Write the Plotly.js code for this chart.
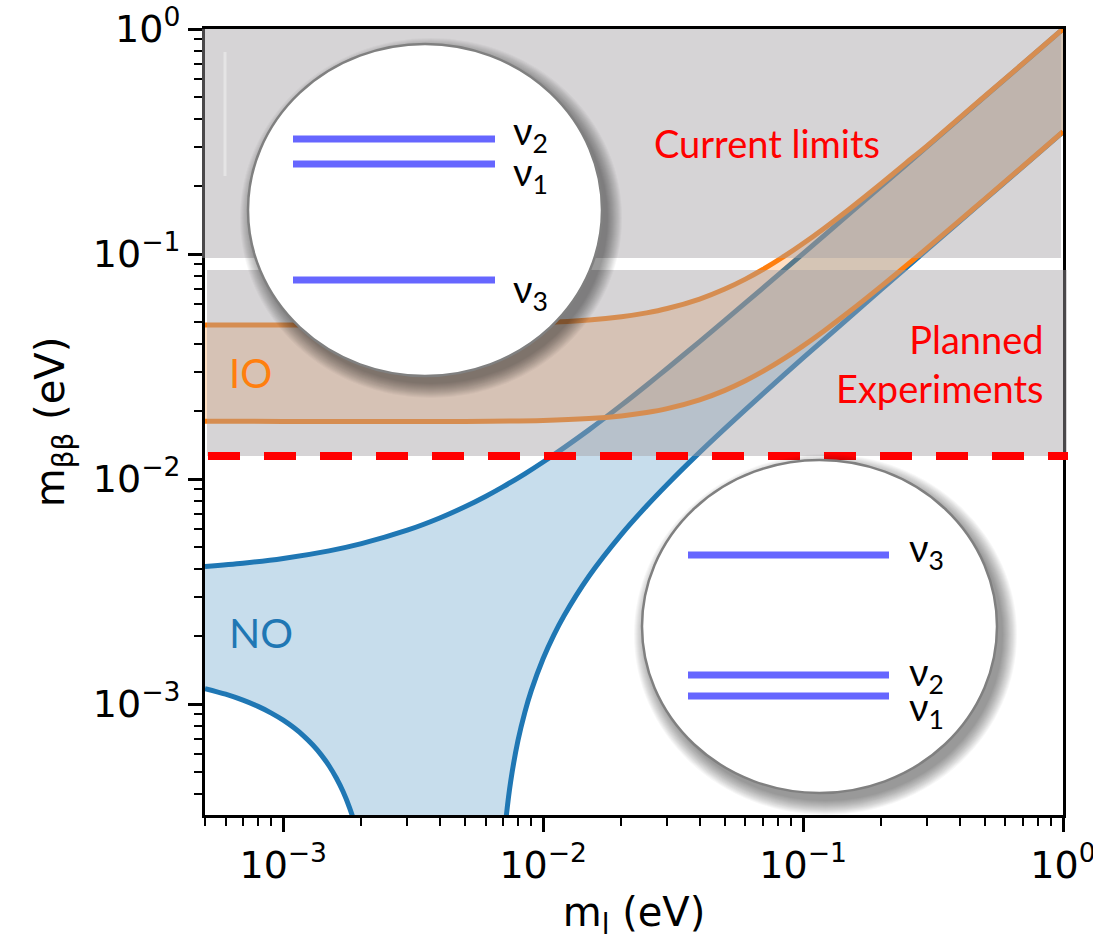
<!DOCTYPE html>
<html><head><meta charset="utf-8">
<script src="https://cdn.plot.ly/plotly-3.0.1.min.js"></script>
<style>html,body{margin:0;padding:0;background:#fff}</style>
</head><body>
<div id="chart" style="width:1093px;height:941px"></div>
<script>
// ---- data (eV) ----
const mlNOUpper = [5e-4,7e-4,1e-3,1.5e-3,2e-3,3e-3,4e-3,5e-3,6e-3,7e-3,8.5e-3,1e-2,1.5e-2,2e-2,2.5e-2,3e-2,4e-2,5e-2,7e-2,0.1,0.15,0.2,0.3,0.5,0.7,1.0];
const mbbNOUpper = [0.004087,0.004226,0.004437,0.004796,0.005164,0.005924,0.006713,0.007529,0.008368,0.009228,0.01055,0.01190,0.01654,0.02130,0.02613,0.03101,0.04082,0.05069,0.07052,0.1004,0.1503,0.2002,0.3001,0.5001,0.7001,1.000];
const mlNOLowerLeft = [5e-4,6e-4,7e-4,8e-4,9e-4,1e-3,1.1e-3,1.2e-3,1.3e-3,1.4e-3,1.5e-3,1.6e-3,1.7e-3,1.8e-3,1.9e-3,2.0e-3];
const mbbNOLowerLeft = [0.001172,0.001107,0.001041,0.0009765,0.000912,0.0008479,0.000784,0.0007206,0.0006575,0.0005947,0.000532,0.000469,0.0004074,0.0003459,0.0002848,0.000224];
const mlNOLowerRight = [7e-3,7.2e-3,7.5e-3,8e-3,8.5e-3,9e-3,1e-2,1.1e-2,1.2e-2,1.5e-2,2e-2,2.5e-2,3e-2,4e-2,5e-2,7e-2,0.1,0.15,0.2,0.3,0.5,0.7,1.0];
const mbbNOLowerRight = [0.0002152,0.0003112,0.0004537,0.0006883,0.000919,0.001147,0.001593,0.002029,0.002457,0.003698,0.005678,0.007591,0.009465,0.01314,0.01676,0.02391,0.03452,0.05209,0.06961,0.1046,0.1744,0.2442,0.3490];
const mlIO = [5e-4,1e-3,2e-3,5e-3,1e-2,1.5e-2,2e-2,2.5e-2,3e-2,4e-2,5e-2,6e-2,7e-2,8.5e-2,0.1,0.12,0.15,0.2,0.25,0.3,0.4,0.5,0.7,1.0];
const mbbIOUpper = [0.04838,0.04840,0.04845,0.04873,0.04957,0.05088,0.05262,0.05475,0.05724,0.06310,0.06989,0.07737,0.08537,0.09805,0.1113,0.1296,0.1578,0.2059,0.2547,0.3020,0.4027,0.5024,0.7017,1.001];
const mbbIOLower = [0.01805,0.01804,0.01803,0.01804,0.01821,0.01856,0.01908,0.01975,0.02055,0.02249,0.02478,0.02734,0.03009,0.03446,0.03906,0.04540,0.05520,0.07196,0.08899,0.1062,0.1407,0.1754,0.2449,0.3494];
const currentLimit = 0.096;      // lower edge of "Current limits" band
const plannedTop = 0.0849;       // upper edge of "Planned Experiments" band
const plannedReach = 0.01265;    // planned sensitivity (red dashed line)
const xTickVals = [1e-3,1e-2,1e-1,1];
const xTickText = ['10<sup>−3</sup>','10<sup>−2</sup>','10<sup>−1</sup>','10<sup>0</sup>'];
const yTickVals = [1e-3,1e-2,1e-1,1];
const yTickText = ['10<sup>−3</sup>','10<sup>−2</sup>','10<sup>−1</sup>','10<sup>0</sup>'];

// ---- layout helpers (pixel -> paper) ----
const L=205,R=1063,T=29,B=815;
const px=x=>(x-L)/(R-L), py=y=>(B-y)/(B-T);
const minorVals=[];
for(let k=-4;k<=0;k++){for(let d=2;d<=9;d++){minorVals.push(d*Math.pow(10,k));}}

const BLUE='#1f77b4', ORANGE='#ff7f0e';
const floorVal=1e-5;
const noFillX = mlNOUpper.concat(mlNOLowerRight.slice().reverse(), [mlNOLowerRight[0], mlNOLowerLeft[mlNOLowerLeft.length-1]], mlNOLowerLeft.slice().reverse());
const noFillY = mbbNOUpper.concat(mbbNOLowerRight.slice().reverse(), [floorVal, floorVal], mbbNOLowerLeft.slice().reverse());
const ioFillX = mlIO.concat(mlIO.slice().reverse());
const ioFillY = mbbIOUpper.concat(mbbIOLower.slice().reverse());

const lineStyle = c => ({color:c, width:5, shape:'spline', smoothing:0.8});
const traces = [
  {x:noFillX, y:noFillY, mode:'lines', fill:'toself', fillcolor:'rgba(31,119,180,0.25)', line:{width:0}, hoverinfo:'skip', showlegend:false},
  {x:mlNOUpper, y:mbbNOUpper, mode:'lines', line:lineStyle(BLUE), showlegend:false},
  {x:mlNOLowerLeft, y:mbbNOLowerLeft, mode:'lines', line:lineStyle(BLUE), showlegend:false},
  {x:mlNOLowerRight, y:mbbNOLowerRight, mode:'lines', line:lineStyle(BLUE), showlegend:false},
  {x:ioFillX, y:ioFillY, mode:'lines', fill:'toself', fillcolor:'rgba(255,127,14,0.25)', line:{width:0}, hoverinfo:'skip', showlegend:false},
  {x:mlIO, y:mbbIOUpper, mode:'lines', line:lineStyle(ORANGE), showlegend:false},
  {x:mlIO, y:mbbIOLower, mode:'lines', line:lineStyle(ORANGE), showlegend:false}
];

const GREY='rgba(165,160,165,0.45)';
const shapes = [
  {type:'rect', layer:'above', xref:'paper', yref:'y', x0:px(202), x1:px(1061), y0:currentLimit, y1:1.02, fillcolor:GREY, line:{width:0}},
  {type:'rect', layer:'above', xref:'paper', yref:'y', x0:px(207), x1:px(1067), y0:plannedReach, y1:plannedTop, fillcolor:GREY, line:{width:0}},
  {type:'line', layer:'above', xref:'paper', yref:'y', x0:px(208), x1:px(1068), y0:plannedReach, y1:plannedReach, line:{color:'#ff0000', width:8, dash:'32px,24px'}},
  {type:'line', layer:'above', xref:'paper', yref:'paper', x0:px(225), x1:px(225), y0:py(52), y1:py(176), line:{color:'rgba(235,235,235,0.7)', width:3}}
];
function ellipse(c){
  const dx=6, dy=8;
  for(let k=14;k>=0;k--){
    shapes.push({type:'circle', layer:'above', xref:'paper', yref:'paper',
      x0:px(c.x0+dx-k), x1:px(c.x1+dx+k), y0:py(c.y1+dy+k), y1:py(c.y0+dy-k),
      fillcolor:'rgba(0,0,0,0.03)', line:{width:0}});
  }
  shapes.push({type:'circle', layer:'above', xref:'paper', yref:'paper',
    x0:px(c.x0), x1:px(c.x1), y0:py(c.y1), y1:py(c.y0),
    fillcolor:'#ffffff', line:{color:'#808080', width:2.5}});
  c.levels.forEach(yy=>{
    shapes.push({type:'line', layer:'above', xref:'paper', yref:'paper',
      x0:px(c.lx0), x1:px(c.lx1), y0:py(yy), y1:py(yy), line:{color:'#6666ff', width:7}});
  });
}
ellipse({x0:248,x1:602,y0:44,y1:376, lx0:293, lx1:495, levels:[139,164,280]});
ellipse({x0:642,x1:997,y0:460,y1:793, lx0:688, lx1:889, levels:[555,675,696]});

const TXT="Lato, 'Noto Sans', sans-serif";
function ann(text,x,y,xa,size,color,extra){
  return Object.assign({text:text, xref:'paper', yref:'paper', x:px(x), y:py(y), xanchor:xa, yanchor:'middle', showarrow:false,
    font:{family:TXT, size:size, color:color}}, extra||{});
}
const annotations = [
  ann('Current limits', 767, 143, 'center', 38, '#ff0000'),
  ann('Planned<br>Experiments', 1046, 364, 'right', 38, '#ff0000', {align:'right'}),
  ann('IO', 227, 373, 'left', 40, ORANGE),
  ann('NO', 227, 632, 'left', 41, BLUE),
  ann('ν<sub>2</sub>', 511, 133, 'left', 38, '#000'),
  ann('ν<sub>1</sub>', 511, 174, 'left', 38, '#000'),
  ann('ν<sub>3</sub>', 511, 291, 'left', 38, '#000'),
  ann('ν<sub>3</sub>', 907, 550, 'left', 38, '#000'),
  ann('ν<sub>2</sub>', 907, 674, 'left', 38, '#000'),
  ann('ν<sub>1</sub>', 907, 709, 'left', 38, '#000')
];

const axisCommon = {
  type:'log', showgrid:false, zeroline:false, showline:true, linecolor:'#000', linewidth:3, mirror:true,
  ticks:'outside', ticklen:14, tickwidth:3, tickcolor:'#000', tickmode:'array', ticklabeloverflow:'allow',
  tickfont:{family:'DejaVu Sans', size:38, color:'#000'},
  minor:{tickmode:'array', tickvals:minorVals, ticks:'outside', ticklen:8, tickwidth:2, tickcolor:'#000', showgrid:false}
};
const layout = {
  width:1093, height:941, margin:{l:L, r:1093-R, t:T, b:941-B},
  paper_bgcolor:'#fff', plot_bgcolor:'#fff', showlegend:false,
  xaxis:Object.assign({}, axisCommon, {range:[Math.log10(5e-4),0], tickvals:xTickVals, ticktext:xTickText,
    title:{text:'m<sub>l</sub> (eV)', font:{family:'DejaVu Sans', size:40, color:'#000'}, standoff:26}}),
  yaxis:Object.assign({}, axisCommon, {range:[-3.493,0], tickvals:yTickVals, ticktext:yTickText,
    title:{text:'m<sub>ββ</sub> (eV)', font:{family:'DejaVu Sans', size:40, color:'#000'}, standoff:16}}),
  shapes:shapes, annotations:annotations
};
Plotly.newPlot('chart', traces, layout, {displayModeBar:false, staticPlot:true});
</script>
</body></html>
